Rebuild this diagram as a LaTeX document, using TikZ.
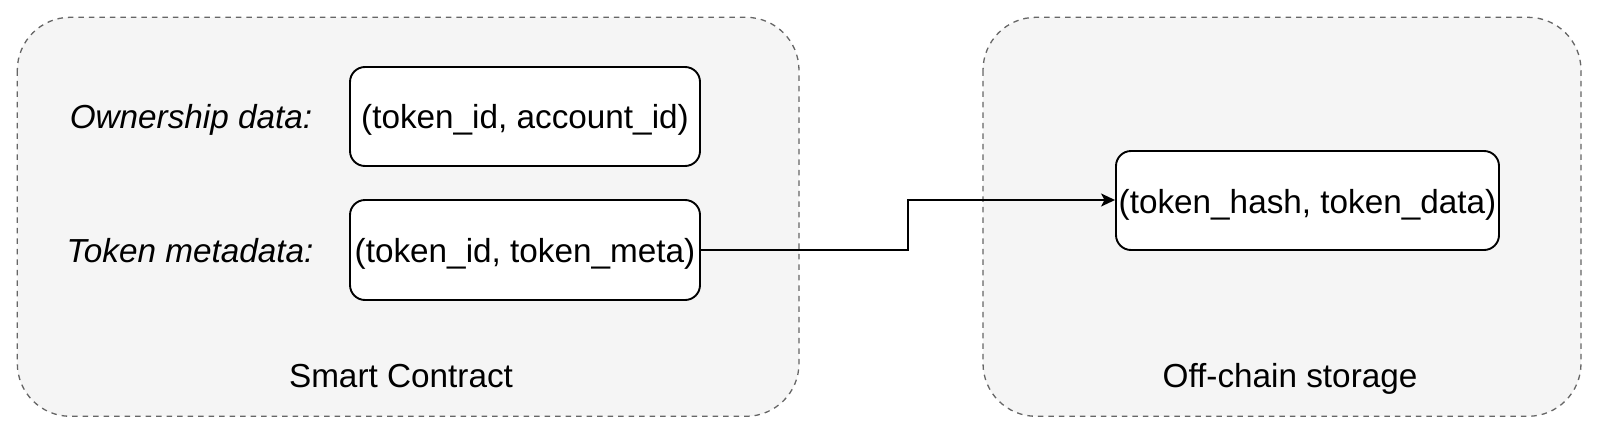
\documentclass[tikz,border=0pt]{standalone}
\usepackage{fontspec}
\setmainfont{Liberation Sans}
\usetikzlibrary{arrows.meta}
\definecolor{contfill}{HTML}{F5F5F5}
\definecolor{contline}{HTML}{666666}
\tikzset{
  container/.style={draw=contline, fill=contfill, line width=1.3pt, dash pattern=on 5.5pt off 5pt, rounded corners=53pt},
  databox/.style={draw=black, fill=white, line width=1.9pt, rounded corners=15pt, inner sep=0pt},
  txt/.style={inner sep=0pt, anchor=base, font=\fontsize{33.3}{40}\selectfont},
  itxt/.style={txt, font=\fontsize{33.3}{40}\selectfont\itshape},
  link/.style={draw=black, line width=1.9pt, -{Stealth[length=14pt,width=13pt,inset=3.5pt]}}
}
\begin{document}
\begin{tikzpicture}[x=1pt,y=-1pt]
\useasboundingbox (0,0) rectangle (1600,434);
% containers
\path[container] (17.3,17.3) rectangle (799,416.3);
\path[container] (983,17.3) rectangle (1581,416.3);
% data boxes
\node[databox, minimum width=350pt, minimum height=99pt] (own) at (525,116.5) {};
\node[txt] (owntxt) at (525,128.5) {(token\_id, account\_id)};
\node[databox, minimum width=350pt, minimum height=100pt] (meta) at (525,250) {};
\node[txt] (metatxt) at (525,262.5) {(token\_id, token\_meta)};
\node[databox, minimum width=383pt, minimum height=99pt] (store) at (1307.5,200.5) {};
\node[txt] (storetxt) at (1307.5,213.5) {(token\_hash, token\_data)};
% labels
\node[itxt] (ownlbl) at (191,128.5) {Ownership data:};
\node[itxt] (metalbl) at (190,262) {Token metadata:};
\node[txt] (sclbl) at (401,387) {Smart Contract};
\node[txt] (oclbl) at (1290,387) {Off-chain storage};
% connector
\coordinate (bend1) at (908,250);
\coordinate (bend2) at (908,200);
\draw[link] (meta.east) -- (bend1) -- (bend2) -- (store.west |- bend2);
\end{tikzpicture}
\end{document}
